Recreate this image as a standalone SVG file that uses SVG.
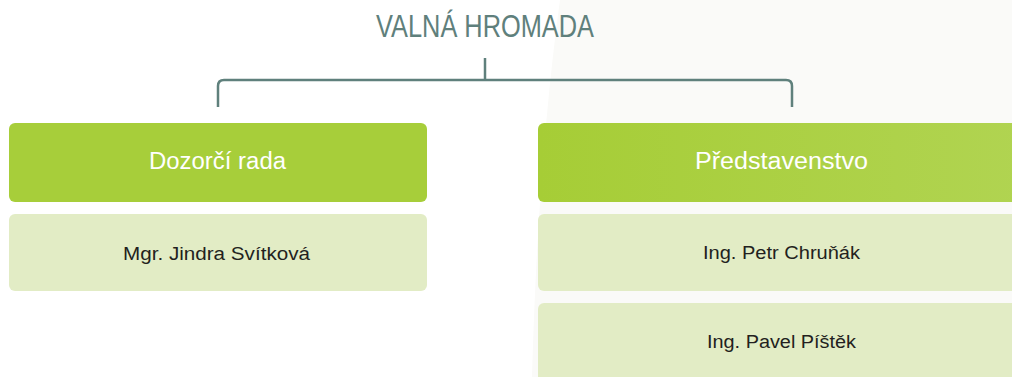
<svg xmlns="http://www.w3.org/2000/svg" width="1012" height="377" viewBox="0 0 1012 377">
<style>
.title{font-family:"Liberation Sans",Arial,sans-serif;font-size:31px;fill:#5f807c;text-anchor:middle}
.head{font-family:"Liberation Sans",Arial,sans-serif;font-size:23px;fill:#ffffff;text-anchor:middle}
.name{font-family:"Liberation Sans",Arial,sans-serif;font-size:18px;fill:#231f20;text-anchor:middle}
.hbox{fill:#a7ce3a}
.nbox{fill:#e2ecc5}
.conn{fill:none;stroke:#5f807c;stroke-width:2.5}
</style>
<defs>
<linearGradient id="hg" x1="0" y1="0" x2="1" y2="0">
<stop offset="0" stop-color="#a6cd36"/>
<stop offset="1" stop-color="#b1d452"/>
</linearGradient>
</defs>
<rect width="1012" height="377" fill="#ffffff"/>
<path d="M560,0 Q538,160 532,377 L1012,377 L1012,0 Z" fill="#fafaf8"/>
<g id="valna-hromada">
<text class="title" x="485" y="37" textLength="218" lengthAdjust="spacingAndGlyphs">VALNÁ HROMADA</text>
</g>
<g id="connectors">
<path class="conn" d="M485,58 V80"/>
<path class="conn" d="M218,107 V86 Q218,80 224,80 H786 Q792,80 792,86 V107"/>
</g>
<g id="dozorci-rada">
<rect class="hbox" x="9" y="123" width="418" height="79" rx="6"/>
<text class="head" x="217.5" y="169" textLength="137" lengthAdjust="spacingAndGlyphs">Dozorčí rada</text>
</g>
<g id="jindra-svitkova">
<rect class="nbox" x="9" y="214" width="418" height="77" rx="6"/>
<text class="name" x="216.5" y="260" textLength="187" lengthAdjust="spacingAndGlyphs">Mgr. Jindra Svítková</text>
</g>
<g id="predstavenstvo">
<rect x="538" y="123" width="500" height="79" rx="6" fill="url(#hg)"/>
<text class="head" x="781.5" y="169" textLength="173" lengthAdjust="spacingAndGlyphs">Představenstvo</text>
</g>
<g id="petr-chrunak">
<rect class="nbox" x="538" y="214" width="500" height="77" rx="6"/>
<text class="name" x="781.5" y="259" textLength="157" lengthAdjust="spacingAndGlyphs">Ing. Petr Chruňák</text>
</g>
<g id="pavel-pistek">
<rect class="nbox" x="538" y="303" width="500" height="90" rx="6"/>
<text class="name" x="781.5" y="348" textLength="149" lengthAdjust="spacingAndGlyphs">Ing. Pavel Píštěk</text>
</g>
</svg>
